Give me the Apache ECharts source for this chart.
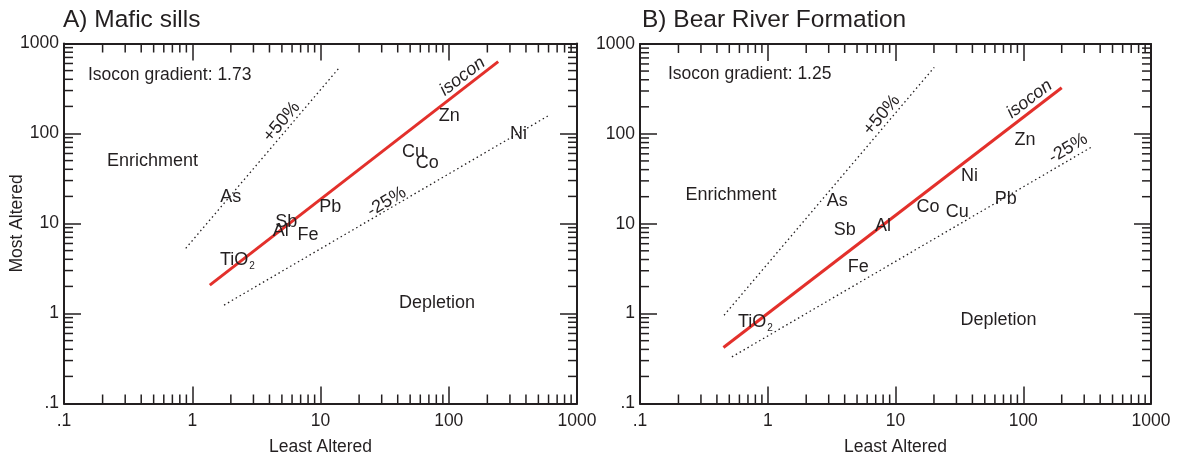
<!DOCTYPE html>
<html>
<head>
<meta charset="utf-8">
<script src="https://cdn.jsdelivr.net/npm/echarts@6/dist/echarts.min.js"></script>
<style>
  html, body { margin: 0; padding: 0; background: #fff; }
  #chart { width: 1177px; height: 456px; }
</style>
</head>
<body>
<div id="chart"></div>
<script>
  // --- data ---
  var elements = ['As', 'Sb', 'Al', 'Fe', 'Pb', 'TiO2', 'Cu', 'Co', 'Zn', 'Ni']
  // panel A: mafic sills (least altered, most altered)
  var sillsLeast = [2.0, 5.4, 4.9, 8.0, 11.9, 2.25, 53, 68, 101, 350]
  var sillsMost = [19.5, 10.4, 8.3, 7.4, 15.3, 3.9, 63, 47, 156, 98]
  // panel B: Bear River Formation
  var bearLeast = [3.5, 4.0, 8.0, 5.1, 73, 0.8, 30.5, 18, 103, 38]
  var bearMost = [17.9, 8.5, 9.5, 3.3, 18.8, 0.81, 13.6, 15.4, 85, 34]

  // reference lines, end points
  var isoconA = [[1.37, 2.07], [243, 628]]
  var plus50A = [[0.89, 5.3], [14.0, 538]]
  var minus25A = [[1.77, 1.24], [591, 156]]
  var isoconB = [[0.45, 0.42], [200, 326]]
  var plus50B = [[0.455, 0.96], [20.1, 550]]
  var minus25B = [[0.524, 0.33], [353, 73.2]]

  // text notes inside the plots
  var noteNames = ['isocon', '+50%', '-25%', 'Enrichment', 'Depletion']
  var notesA = [[128, 430], [4.98, 135], [32.8, 17.4], [0.49, 49], [81, 1.3]]
  var notesB = [[112, 244], [7.8, 162], [225, 69], [0.515, 20.8], [64, 0.845]]
  var gradients = ['Isocon gradient: 1.73', 'Isocon gradient: 1.25']

  var axisTicks = [0.1, 1, 10, 100, 1000]
  var minorSteps = [2, 3, 4, 5, 6, 7, 8, 9]

  // --- styles ---
  var font = 'Liberation Sans, Arial, sans-serif'
  var ink = '#231f20'
  var red = '#e3302b'

  var minorValues = []
  axisTicks.slice(0, 4).forEach(function (d) {
    minorSteps.forEach(function (s) { minorValues.push([+(d * s).toPrecision(3), +(d * s).toPrecision(3)]) })
  })

  function tickLabel(v) {
    var r = Math.round(v * 10) / 10
    return r === 0.1 ? '.1' : String(Math.round(r))
  }

  function xAxisOf(grid, pos) {
    return {
      type: 'log', logBase: 10, min: 0.1, max: 1000, gridIndex: grid, position: pos,
      name: pos === 'bottom' ? 'Least Altered' : '',
      nameLocation: 'middle', nameGap: 35, nameMoveOverlap: false,
      nameTextStyle: {fontFamily: font, fontSize: 17.5, color: ink},
      axisLine: {show: true, onZero: false, lineStyle: {color: ink, width: 2}},
      axisTick: {show: true, inside: true, length: 17, lineStyle: {color: ink, width: 1.5}},
      axisLabel: {show: pos === 'bottom', formatter: tickLabel, fontFamily: font, fontSize: 17.5, color: ink, margin: 9},
      splitLine: {show: false},
      minorTick: {show: false}
    }
  }

  function yAxisOf(grid, pos, title) {
    return {
      type: 'log', logBase: 10, min: 0.1, max: 1000, gridIndex: grid, position: pos,
      name: title,
      nameLocation: 'middle', nameGap: 38, nameMoveOverlap: false,
      nameTextStyle: {fontFamily: font, fontSize: 17.5, color: ink},
      axisLine: {show: true, onZero: false, lineStyle: {color: ink, width: 2}},
      axisTick: {show: true, inside: true, length: 17, lineStyle: {color: ink, width: 1.5}},
      axisLabel: {show: pos === 'left', formatter: tickLabel, fontFamily: font, fontSize: 17.5, color: ink, margin: 5},
      splitLine: {show: false},
      minorTick: {show: false}
    }
  }

  // minor ticks at 2..9 of every decade, on all four sides
  function renderMinor(params, api) {
    var v = api.value(0)
    var L = 9
    var b = api.coord([v, 0.1])
    var t = api.coord([v, 1000])
    var l = api.coord([0.1, v])
    var r = api.coord([1000, v])
    var style = {stroke: ink, lineWidth: 1.5}
    return {
      type: 'group',
      children: [
        {type: 'line', shape: {x1: b[0], y1: b[1], x2: b[0], y2: b[1] - L}, style: style},
        {type: 'line', shape: {x1: t[0], y1: t[1], x2: t[0], y2: t[1] + L}, style: style},
        {type: 'line', shape: {x1: l[0], y1: l[1], x2: l[0] + L, y2: l[1]}, style: style},
        {type: 'line', shape: {x1: r[0], y1: r[1], x2: r[0] - L, y2: r[1]}, style: style}
      ]
    }
  }

  function elementLabel(p) {
    return p.name === 'TiO2' ? '{b|TiO}{s|2}' : '{b|' + p.name + '}'
  }

  // scatter symbols are only anchors for the text; keep the text at full strength
  var plain = {textBorderWidth: 0, textBorderColor: 'transparent', textShadowBlur: 0, opacity: 1}
  var anchor = {color: 'rgba(0,0,0,0)', opacity: 1}

  function seriesFor(idx, least, most, iso, p50, m25, notes) {
    var pts = elements.map(function (el, i) {
      return {name: el, value: [least[i], most[i]]}
    })
    var noteItems = notes.map(function (n, i) {
      var item = {name: noteNames[i], value: n, label: {}}
      if (i === 0) { item.label = {rotate: 37, fontStyle: 'italic'} }
      if (i === 1) { item.label = {rotate: 50} }
      if (i === 2) { item.label = {rotate: 31} }
      return item
    })
    var dotted = {color: ink, width: 1.3, type: [1.5, 3]}
    return [
      {
        type: 'custom', xAxisIndex: idx * 2, yAxisIndex: idx * 2, silent: true,
        renderItem: renderMinor, data: minorValues, z: 1
      },
      {
        type: 'line', xAxisIndex: idx * 2, yAxisIndex: idx * 2, data: p50, symbol: 'none', silent: true,
        lineStyle: dotted, z: 2
      },
      {
        type: 'line', xAxisIndex: idx * 2, yAxisIndex: idx * 2, data: m25, symbol: 'none', silent: true,
        lineStyle: dotted, z: 2
      },
      {
        type: 'line', xAxisIndex: idx * 2, yAxisIndex: idx * 2, data: iso, symbol: 'none', silent: true,
        lineStyle: {color: red, width: 3}, z: 3
      },
      {
        type: 'scatter', xAxisIndex: idx * 2, yAxisIndex: idx * 2, data: pts, silent: true,
        symbolSize: 1, itemStyle: anchor, z: 4,
        label: Object.assign({
          show: true, position: 'inside', formatter: elementLabel, color: ink,
          rich: {
            b: Object.assign({fontFamily: font, fontSize: 18, color: ink}, plain),
            s: Object.assign({fontFamily: font, fontSize: 10, color: ink, padding: [12, 0, 0, 1]}, plain)
          }
        }, plain)
      },
      {
        type: 'scatter', xAxisIndex: idx * 2, yAxisIndex: idx * 2, data: noteItems, silent: true,
        symbolSize: 1, itemStyle: anchor, z: 4,
        label: Object.assign({show: true, position: 'inside', formatter: '{b}', fontFamily: font, fontSize: 18, color: ink}, plain)
      }
    ]
  }

  var chart = echarts.init(document.getElementById('chart'), null, {renderer: 'canvas'})
  var option = {
    backgroundColor: '#fff',
    animation: false,
    title: [
      {text: 'A) Mafic sills', left: 63, top: 8, padding: 0,
        textStyle: {fontFamily: font, fontSize: 24.5, fontWeight: 'normal', color: ink}},
      {text: 'B) Bear River Formation', left: 642, top: 8, padding: 0,
        textStyle: {fontFamily: font, fontSize: 24.5, fontWeight: 'normal', color: ink}},
      {text: gradients[0], left: 88, top: 66, padding: 0,
        textStyle: {fontFamily: font, fontSize: 17.5, fontWeight: 'normal', color: ink}},
      {text: gradients[1], left: 668, top: 65, padding: 0,
        textStyle: {fontFamily: font, fontSize: 17.5, fontWeight: 'normal', color: ink}}
    ],
    grid: [
      {left: 64, top: 43.5, width: 513, height: 360, outerBoundsMode: 'none', containLabel: false},
      {left: 640, top: 44, width: 511, height: 359.5, outerBoundsMode: 'none', containLabel: false}
    ],
    xAxis: [xAxisOf(0, 'bottom'), xAxisOf(0, 'top'), xAxisOf(1, 'bottom'), xAxisOf(1, 'top')],
    yAxis: [yAxisOf(0, 'left', 'Most Altered'), yAxisOf(0, 'right', ''), yAxisOf(1, 'left', ''), yAxisOf(1, 'right', '')],
    series: [].concat(
      seriesFor(0, sillsLeast, sillsMost, isoconA, plus50A, minus25A, notesA),
      seriesFor(1, bearLeast, bearMost, isoconB, plus50B, minus25B, notesB)
    )
  }
  chart.setOption(option)
</script>
</body>
</html>
